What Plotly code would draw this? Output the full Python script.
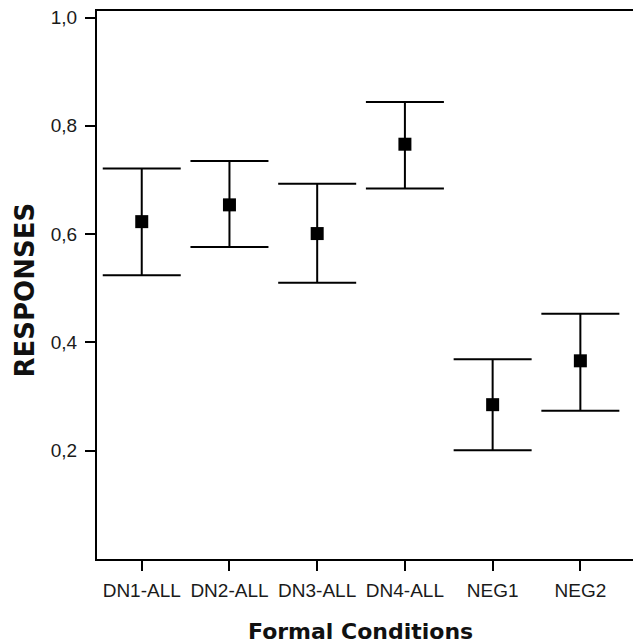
import plotly.graph_objects as go

categories = ["DN1-ALL", "DN2-ALL", "DN3-ALL", "DN4-ALL", "NEG1", "NEG2"]
means = [0.623, 0.654, 0.601, 0.766, 0.285, 0.366]
upper = [0.721, 0.735, 0.693, 0.844, 0.369, 0.453]
lower = [0.524, 0.576, 0.510, 0.684, 0.201, 0.274]
y_ticks = [0.2, 0.4, 0.6, 0.8, 1.0]
y_tick_text = ["0,2", "0,4", "0,6", "0,8", "1,0"]

err_plus = [u - m for u, m in zip(upper, means)]
err_minus = [m - l for m, l in zip(means, lower)]

# figure is a bit wider than the window so the right frame edge is cropped, as in the reference
W, H = 660, 643
L, R, T, B = 97, 0, 11, 84
pw, ph = W - L - R, H - T - B
units_per_px = 6.11 / 536.0
x_left = -0.51
x_right = x_left + units_per_px * pw

fig = go.Figure()
fig.add_trace(go.Scatter(
    x=list(range(len(categories))),
    y=means,
    mode="markers",
    marker=dict(symbol="square", size=13, color="black"),
    error_y=dict(type="data", symmetric=False, array=err_plus, arrayminus=err_minus,
                 color="black", thickness=2, width=39),
    showlegend=False,
    hoverinfo="skip",
))

tick_font = "Liberation Sans, Arial, sans-serif"
title_font = "DejaVu Sans, Liberation Sans, Arial, sans-serif"
fig.update_layout(
    width=W, height=H,
    margin=dict(l=L, r=R, t=T, b=B),
    paper_bgcolor="white", plot_bgcolor="white",
    font=dict(family=tick_font, color="black"),
    xaxis=dict(
        range=[x_left, x_right],
        tickmode="array", tickvals=list(range(len(categories))), ticktext=categories,
        ticks="outside", ticklen=10, tickwidth=2, tickcolor="black",
        showline=True, linecolor="black", linewidth=2, mirror=True,
        showgrid=False, zeroline=False,
        tickfont=dict(family=tick_font, size=19, color="#1a1a1a"),
        ticklabelstandoff=3,
    ),
    yaxis=dict(
        range=[0, 1.012],
        tickmode="array", tickvals=y_ticks, ticktext=y_tick_text,
        ticks="outside", ticklen=10, tickwidth=2, tickcolor="black",
        showline=True, linecolor="black", linewidth=2, mirror=False,
        showgrid=False, zeroline=False,
        tickfont=dict(family=tick_font, size=19, color="#1a1a1a"),
        ticklabelstandoff=4,
    ),
    annotations=[
        dict(text="<b>Formal Conditions</b>", xref="paper", yref="paper",
             x=(360 - L) / pw, y=(559 - 631) / ph, xanchor="center", yanchor="middle",
             showarrow=False, font=dict(family=title_font, size=22, color="#111")),
        dict(text="<b>RESPONSES</b>", xref="paper", yref="paper", textangle=-90,
             x=(24 - L) / pw, y=(559 - 290.5) / ph, xanchor="center", yanchor="middle",
             showarrow=False, font=dict(family=title_font, size=26, color="#111")),
    ],
)

fig.write_html("out.html",
               config={"displayModeBar": False, "staticPlot": True},
               post_script=("document.body.style.margin='0';"
                            "document.body.style.overflow='hidden';"
                            "document.documentElement.style.overflow='hidden';"))
